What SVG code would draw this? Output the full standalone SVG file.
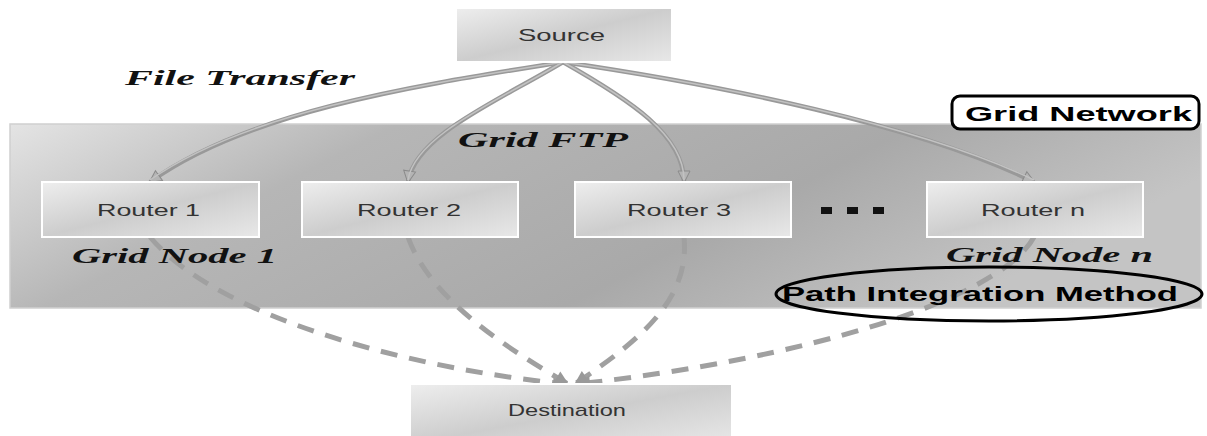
<svg xmlns="http://www.w3.org/2000/svg" width="1207" height="436" viewBox="0 0 1207 436">
<defs>
<linearGradient id="net" x1="0" y1="0" x2="1" y2="0.3">
<stop offset="0" stop-color="#e4e4e4"/>
<stop offset="0.3" stop-color="#b6b6b6"/>
<stop offset="0.7" stop-color="#a9a9a9"/>
<stop offset="1" stop-color="#c4c4c4"/>
</linearGradient>
<linearGradient id="box" x1="0" y1="0" x2="1" y2="1">
<stop offset="0" stop-color="#eeeeee"/>
<stop offset="0.5" stop-color="#cdcdcd"/>
<stop offset="1" stop-color="#e8e8e8"/>
</linearGradient>
<marker id="arr" viewBox="0 0 14 14" refX="12" refY="7" markerWidth="14" markerHeight="14" markerUnits="userSpaceOnUse" orient="auto">
<path d="M1,1 L13,7 L1,13 Z" fill="#b4b4b4" stroke="#8a8a8a" stroke-width="1"/>
</marker>
<marker id="arrd" viewBox="0 0 16 16" refX="14" refY="8" markerWidth="16" markerHeight="16" markerUnits="userSpaceOnUse" orient="auto">
<path d="M1,1 L15,8 L1,15 Z" fill="#999"/>
</marker>
</defs>
<style>
.node rect{fill:url(#box);stroke:#ffffff;stroke-width:2}
.lbl{font-family:"Liberation Sans",Arial,sans-serif;font-size:17px;fill:#333}
.it{font-family:"Liberation Serif","Times New Roman",serif;font-style:italic;font-weight:bold;font-size:22px;fill:#111}
.bd{font-family:"Liberation Sans",Arial,sans-serif;font-weight:bold;font-size:21px;fill:#000}
.sol{fill:none;stroke:#999;stroke-width:4.5;marker-end:url(#arr)}
.sol2{fill:none;stroke:#c2c2c2;stroke-width:1.5}
.das{fill:none;stroke:#a0a0a0;stroke-width:5;stroke-dasharray:17 12;marker-end:url(#arrd)}
</style>
<g id="grid-network">
<rect x="10" y="124" width="1191" height="184" fill="url(#net)" stroke="#d0d0d0" stroke-width="1.5"/>
</g>
<g id="connectors">
<path class="sol" d="M563,62 C420,85 250,110 150,182"/>
<path class="sol" d="M563,62 C500,100 415,135 408,182"/>
<path class="sol" d="M563,62 C630,100 684,135 684,182"/>
<path class="sol" d="M563,62 C720,85 920,125 1034,182"/>
<path class="sol2" d="M563,62 C420,85 250,110 150,180"/>
<path class="sol2" d="M563,62 C500,100 415,135 408,180"/>
<path class="sol2" d="M563,62 C630,100 684,135 684,180"/>
<path class="sol2" d="M563,62 C720,85 920,125 1034,180"/>
<path class="das" d="M150,237 C220,320 420,370 566,384"/>
<path class="das" d="M408,237 C430,300 510,350 568,384"/>
<path class="das" d="M684,237 C690,300 640,340 575,384"/>
<path class="das" d="M1034,237 C1000,300 800,360 577,384"/>
</g>
<g id="source" class="node">
<rect x="456" y="8" width="216" height="54"/>
<text class="lbl" x="518" y="41" textLength="87" lengthAdjust="spacingAndGlyphs">Source</text>
</g>
<g id="router1" class="node">
<rect x="42" y="182" width="217" height="55"/>
<text class="lbl" x="97" y="216" textLength="103" lengthAdjust="spacingAndGlyphs">Router 1</text>
</g>
<g id="router2" class="node">
<rect x="302" y="182" width="216" height="55"/>
<text class="lbl" x="357" y="216" textLength="104" lengthAdjust="spacingAndGlyphs">Router 2</text>
</g>
<g id="router3" class="node">
<rect x="575" y="182" width="216" height="55"/>
<text class="lbl" x="627" y="216" textLength="104" lengthAdjust="spacingAndGlyphs">Router 3</text>
</g>
<g id="routern" class="node">
<rect x="927" y="182" width="216" height="55"/>
<text class="lbl" x="981" y="216" textLength="104" lengthAdjust="spacingAndGlyphs">Router n</text>
</g>
<g id="destination" class="node">
<rect x="410" y="384" width="322" height="60"/>
<text class="lbl" x="508" y="416" textLength="118" lengthAdjust="spacingAndGlyphs">Destination</text>
</g>
<g id="dots" fill="#111">
<rect x="821" y="207" width="11" height="7"/>
<rect x="847" y="207" width="11" height="7"/>
<rect x="873" y="207" width="11" height="7"/>
</g>
<g id="labels">
<text class="it" x="125" y="85" textLength="230" lengthAdjust="spacingAndGlyphs">File Transfer</text>
<text class="it" x="458" y="147" textLength="170" lengthAdjust="spacingAndGlyphs">Grid FTP</text>
<text class="it" x="72" y="263" textLength="205" lengthAdjust="spacingAndGlyphs">Grid Node 1</text>
<text class="it" x="946" y="262" textLength="207" lengthAdjust="spacingAndGlyphs">Grid Node n</text>
</g>
<g id="grid-network-label">
<rect x="952" y="96" width="247" height="33" rx="8" fill="#fff" stroke="#000" stroke-width="3"/>
<text class="bd" x="965" y="121" textLength="227" lengthAdjust="spacingAndGlyphs">Grid Network</text>
</g>
<g id="path-integration">
<ellipse cx="989" cy="294" rx="213" ry="27" fill="none" stroke="#000" stroke-width="3"/>
<text class="bd" x="782" y="301" textLength="396" lengthAdjust="spacingAndGlyphs">Path Integration Method</text>
</g>
</svg>
